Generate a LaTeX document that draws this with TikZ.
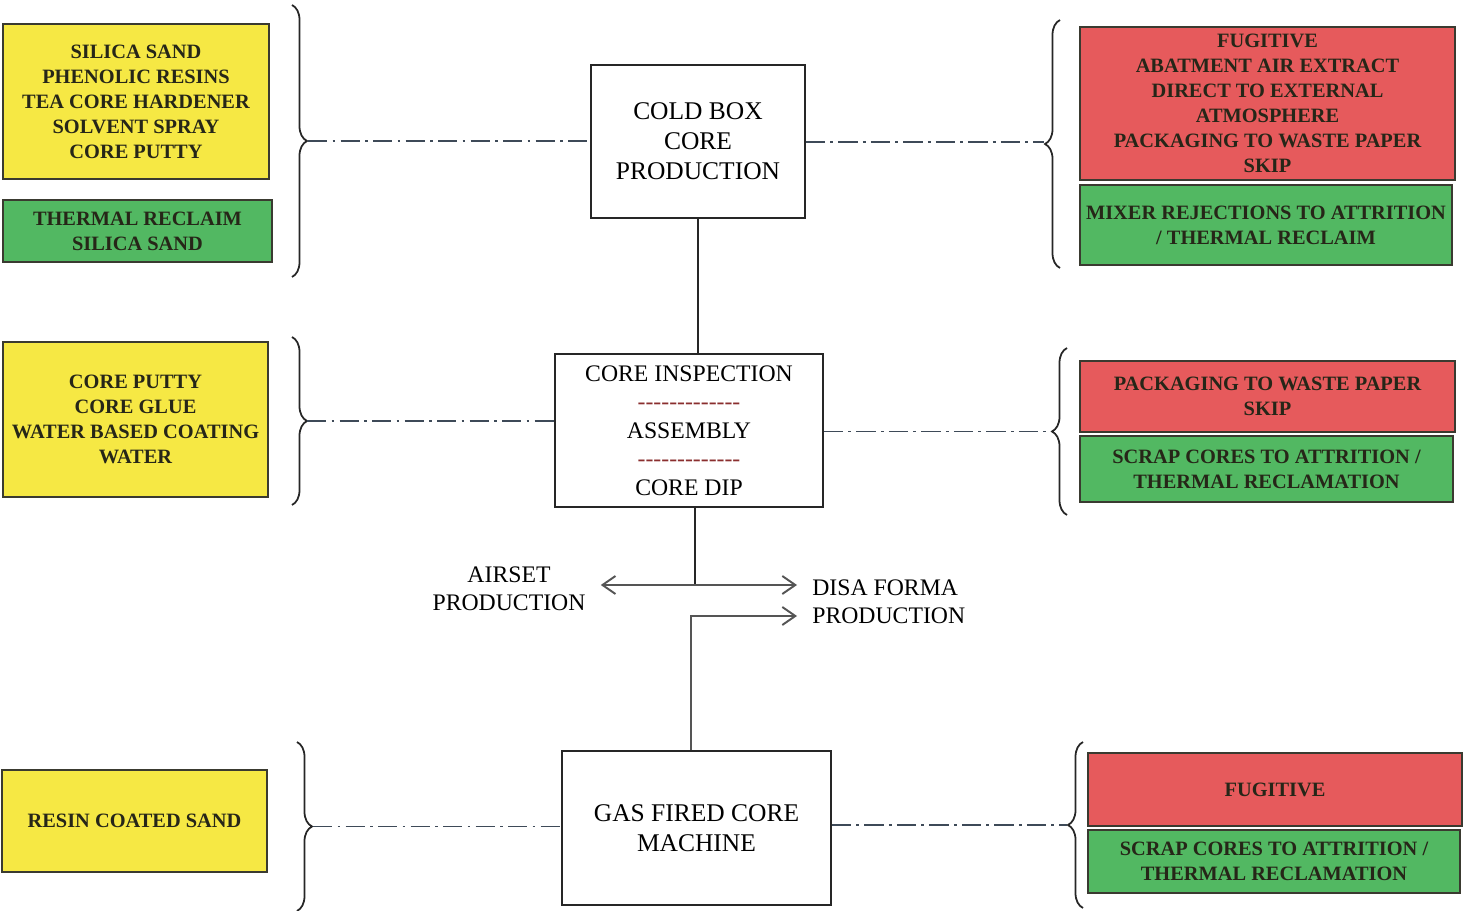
\documentclass[tikz,border=0pt]{standalone}
\usepackage{fontspec}
\setmainfont{Liberation Serif}[BoldFont={Liberation Serif Bold}]
\usepackage{tikz}
\usetikzlibrary{positioning,arrows.meta,decorations.pathreplacing}
\definecolor{Yel}{HTML}{F6E844}
\definecolor{Red}{HTML}{E65A5C}
\definecolor{Grn}{HTML}{52B862}
\definecolor{Edge}{HTML}{3A3A30}
\definecolor{Ink}{HTML}{262618}
\definecolor{Slate}{HTML}{3E4A58}
\definecolor{Arrow}{HTML}{555555}
\definecolor{Sep}{HTML}{8A2E2E}
\newcommand{\dashrow}{{\color{Sep}\foreach \k in {1,...,13}{-\kern0pt}}}

\begin{document}
\begin{tikzpicture}[x=0.02cm,y=-0.02cm,
    sz/.style 2 args={minimum width=#1cm,minimum height=#2cm},
    inbox/.style={draw=Edge,line width=1pt,inner sep=0pt,align=center,
                  font=\fontsize{11.6}{14.2}\selectfont\bfseries\color{Ink}},
    srcbox/.style={inbox,fill=Yel},
    recbox/.style={inbox,fill=Grn},
    wastebox/.style={inbox,fill=Red},
    procbox/.style={draw=black!85,line width=1pt,fill=white,inner sep=0pt,
                    align=center,font=\fontsize{14.5}{17}\selectfont},
    lbl/.style={align=center,inner xsep=0.3cm,inner ysep=0pt,
                font=\fontsize{13.5}{16.2}\selectfont},
    arr/.style={-{Straight Barb[length=2.6mm,width=3.6mm]},line width=1.1pt,color=Arrow},
    link/.style={line width=1pt,color=black!85},
    dd/.style={line width=1pt,color=Slate,
               dash pattern=on 11pt off 3pt on 1.5pt off 3pt},
    brc/.style={decorate,decoration={brace,amplitude=0.3cm},line width=1pt,color=black!85}
  ]
    \useasboundingbox (0,0) rectangle (1471,911);

    % cold box row
    \node[procbox,sz={4.28}{3.06}] (cold) at (698,141.5) {COLD BOX\\CORE\\PRODUCTION};
    \node[srcbox,sz={5.32}{3.10}] (in1) at (136,101.5)
      {SILICA SAND\\PHENOLIC RESINS\\TEA CORE HARDENER\\SOLVENT SPRAY\\CORE PUTTY};
    \node[recbox,sz={5.38}{1.24}] (rin1) at (137.5,231) {THERMAL RECLAIM\\SILICA SAND};
    \node[wastebox,sz={7.50}{3.06}] (out1) at (1267.5,103.5)
      {FUGITIVE\\ABATMENT AIR EXTRACT\\DIRECT TO EXTERNAL\\ATMOSPHERE\\PACKAGING TO WASTE PAPER\\SKIP};
    \node[recbox,sz={7.44}{1.60}] (rout1) at (1266,225)
      {MIXER REJECTIONS TO ATTRITION\\/ THERMAL RECLAIM};

    % inspection row
    \node[procbox,sz={5.36}{3.06},font=\fontsize{13.5}{16.2}\selectfont] (insp) at (689,430.5)
      {CORE INSPECTION\\\dashrow\\ASSEMBLY\\\dashrow\\CORE DIP};
    \node[srcbox,sz={5.30}{3.10}] (in2) at (135.5,419.5)
      {CORE PUTTY\\CORE GLUE\\WATER BASED COATING\\WATER};
    \node[wastebox,sz={7.50}{1.42}] (out2) at (1267.5,396.5) {PACKAGING TO WASTE PAPER\\SKIP};
    \node[recbox,sz={7.46}{1.32}] (rout2) at (1266.5,469)
      {SCRAP CORES TO ATTRITION /\\THERMAL RECLAMATION};

    % gas fired row
    \node[procbox,sz={5.38}{3.08}] (gas) at (696.5,828) {GAS FIRED CORE\\MACHINE};
    \node[srcbox,sz={5.30}{2.04}] (in3) at (134.5,821) {RESIN COATED SAND};
    \node[wastebox,sz={7.48}{1.46}] (out3) at (1275,789.5) {FUGITIVE};
    \node[recbox,sz={7.44}{1.26}] (rout3) at (1274,861.5)
      {SCRAP CORES TO ATTRITION /\\THERMAL RECLAMATION};

    % destinations
    \node[lbl] (airset) at (509,589) {AIRSET\\PRODUCTION};
    \node[lbl,anchor=west,align=left] (disa) at (797,601.5) {DISA FORMA\\PRODUCTION};

    % braces
    \draw[brc] (292,5) -- (292,277);
    \coordinate (bl1) at (308,141);
    \draw[brc] (292,337) -- (292,505);
    \coordinate (bl2) at (307,421);
    \draw[brc] (297,742) -- (297,911);
    \coordinate (bl3) at (313,826.5);
    \draw[brc] (1060,268) -- (1060,20);
    \coordinate (br1) at (1044,142);
    \draw[brc] (1067,515) -- (1067,348);
    \coordinate (br2) at (1051,431.5);
    \draw[brc] (1083,908) -- (1083,742);
    \coordinate (br3) at (1067,825);

    % dash-dot links
    \draw[dd] (bl1) -- (bl1 -| cold.west);
    \draw[dd] (cold.east |- br1) -- (br1);
    \draw[dd] (bl2) -- (bl2 -| insp.west);
    \draw[dd] (insp.east |- br2) -- (br2);
    \draw[dd] (bl3) -- (bl3 -| gas.west);
    \draw[dd] (gas.east |- br3) -- (br3);

    % flow
    \draw[link] (cold.south) -- (cold.south |- insp.north);
    \coordinate (split) at (695,585);
    \coordinate (bend) at (691,616);
    \draw[link] (split |- insp.south) -- (split);
    \draw[arr] (split) -- (split -| airset.east);
    \draw[arr] (split) -- (split -| disa.west);
    \draw[arr] (bend |- gas.north) -- (bend) -- (bend -| disa.west);
  \end{tikzpicture}
\end{document}
